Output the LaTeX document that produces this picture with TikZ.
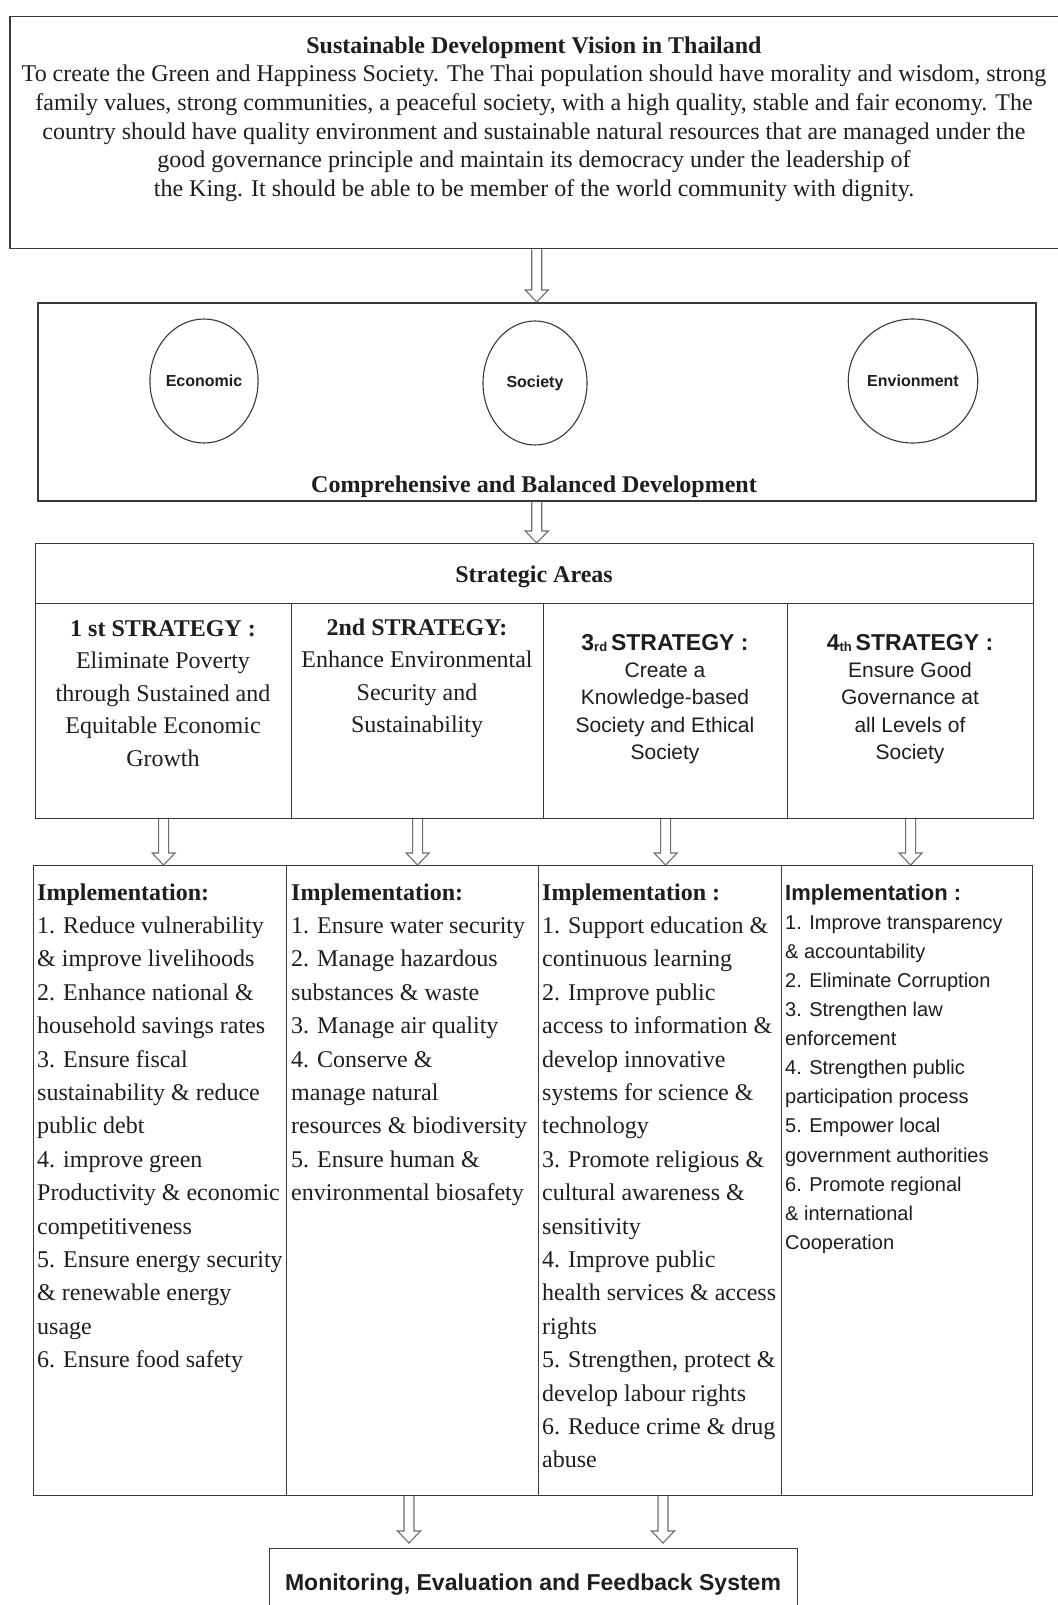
\documentclass[tikz,border=0pt]{standalone}
\usepackage{fontspec}
\setmainfont{Liberation Serif}
\setsansfont{Liberation Sans}
\usetikzlibrary{shapes.geometric,calc}
\definecolor{ink}{HTML}{1E1E1E}
\definecolor{rule}{HTML}{3A3A3A}
\definecolor{arrowgray}{HTML}{6E6E6E}
\tikzset{
  frame/.style={draw=rule, line width=1.5pt, inner sep=0pt, anchor=north west},
  cell/.style={draw=rule, line width=1.2pt, inner sep=0pt, anchor=north west},
  pillar/.style={draw=rule, line width=1.1pt, ellipse, minimum width=104pt, minimum height=124pt,
    inner sep=0pt, font=\sffamily\bfseries\fontsize{16}{18}\selectfont, text=ink},
  serifbody/.style={inner sep=0pt, text=ink, font=\fontsize{24}{33.4}\selectfont},
  headtxt/.style={inner sep=0pt, text=ink, anchor=base, font=\bfseries\fontsize{24}{28}\selectfont},
  hollow/.style={draw=arrowgray, line width=1.1pt, line join=miter, to path={
    let \p1=(\tikztostart), \p2=(\tikztotarget) in
    (\x1-5pt,\y1) -- (\x1-5pt,\y2+12pt) -- (\x1-11.5pt,\y2+12pt) -- (\x1,\y2)
    -- (\x1+11.5pt,\y2+12pt) -- (\x1+5pt,\y2+12pt) -- (\x1+5pt,\y1)}}
}
\newcommand{\ordsub}[1]{\raisebox{-1.5pt}{\fontsize{13}{13}\selectfont #1}}
\begin{document}
\begin{tikzpicture}[x=1pt,y=-1pt]
\useasboundingbox (0,0) rectangle (1057,1605);
\fill[white] (0,0) rectangle (1057,1605);

% vision statement
\node[frame, minimum width=1053pt, minimum height=232pt] (vision) at (9,16) {};
\node[inner sep=0pt, anchor=north, align=center, text=ink,
      font=\fontsize{24}{28.7}\selectfont] (visiontxt) at (534,32.9)
  {\strut\textbf{Sustainable Development Vision in Thailand}\\
   To create the Green and Happiness Society. The Thai population should have morality and wisdom, strong\\
   family values, strong communities, a peaceful society, with a high quality, stable and fair economy. The\\
   country should have quality environment and sustainable natural resources that are managed under the\\
   good governance principle and maintain its democracy under the leadership of\\
   the King. It should be able to be member of the world community with dignity.};

% three pillars
\node[frame, minimum width=998pt, minimum height=198pt] (balance) at (37,302) {};
\node[pillar] (economic) at (204,381) {Economic};
\node[pillar] (society) at (535,383) {Society};
\node[pillar] (environment) at (913,381) {Envionment};
\node[headtxt] (balancetxt) at (534,492) {Comprehensive and Balanced Development};

% strategic areas
\node[cell, minimum width=998pt, minimum height=60pt] (areas) at (35,543) {};
\node[headtxt] (areastxt) at (534,582) {Strategic Areas};
\node[cell, minimum width=256pt, minimum height=215pt] (s1) at (35,603) {};
\node[cell, minimum width=252pt, minimum height=215pt] (s2) at (291,603) {};
\node[cell, minimum width=244pt, minimum height=215pt] (s3) at (543,603) {};
\node[cell, minimum width=246pt, minimum height=215pt] (s4) at (787,603) {};

\node[serifbody, anchor=north, align=center, font=\fontsize{24}{32.6}\selectfont] (s1txt) at (163,613)
  {\strut\textbf{1 st STRATEGY :}\\ Eliminate Poverty\\ through Sustained and\\ Equitable Economic\\ Growth};
\node[serifbody, anchor=north, align=center, font=\fontsize{24}{32.6}\selectfont] (s2txt) at (417,612)
  {\strut\textbf{2nd STRATEGY:}\\ Enhance Environmental\\ Security and\\ Sustainability};
\node[inner sep=0pt, text=ink, anchor=north, align=center, font=\sffamily\fontsize{21}{27.3}\selectfont] (s3txt) at (665,631)
  {\strut{\bfseries\fontsize{23}{27.3}\selectfont 3\ordsub{rd}\,STRATEGY :}\\ Create a\\ Knowledge-based\\ Society and Ethical\\ Society};
\node[inner sep=0pt, text=ink, anchor=north, align=center, font=\sffamily\fontsize{21}{27.3}\selectfont] (s4txt) at (910,631)
  {\strut{\bfseries\fontsize{23}{27.3}\selectfont 4\ordsub{th}\,STRATEGY :}\\ Ensure Good\\ Governance at\\ all Levels of\\ Society};

% implementation
\node[cell, minimum width=253pt, minimum height=630pt] (i1) at (33,865) {};
\node[cell, minimum width=252pt, minimum height=630pt] (i2) at (286,865) {};
\node[cell, minimum width=243pt, minimum height=630pt] (i3) at (538,865) {};
\node[cell, minimum width=251pt, minimum height=630pt] (i4) at (781,865) {};

\node[serifbody, anchor=north west, align=left] (i1txt) at (37,876.6)
  {\strut\textbf{Implementation:}\\
   1. Reduce vulnerability\\ \& improve livelihoods\\ 2. Enhance national \&\\
   household savings rates\\ 3. Ensure fiscal\\ sustainability \& reduce\\ public debt\\
   4. improve green\\ Productivity \& economic\\ competitiveness\\
   5. Ensure energy security\\ \& renewable energy\\ usage\\ 6. Ensure food safety};
\node[serifbody, anchor=north west, align=left] (i2txt) at (291,876.6)
  {\strut\textbf{Implementation:}\\
   1. Ensure water security\\ 2. Manage hazardous\\ substances \& waste\\
   3. Manage air quality\\ 4. Conserve \&\\ manage natural\\
   resources \& biodiversity\\ 5. Ensure human \&\\ environmental biosafety};
\node[serifbody, anchor=north west, align=left] (i3txt) at (542,876.6)
  {\strut\textbf{Implementation :}\\
   1. Support education \&\\ continuous learning\\ 2. Improve public\\
   access to information \&\\ develop innovative\\ systems for science \&\\ technology\\
   3. Promote religious \&\\ cultural awareness \&\\ sensitivity\\
   4. Improve public\\ health services \& access\\ rights\\
   5. Strengthen, protect \&\\ develop labour rights\\ 6. Reduce crime \& drug\\ abuse};
\node[inner sep=0pt, text=ink, anchor=north west, align=left,
      font=\sffamily\fontsize{20}{29.1}\selectfont] (i4txt) at (785,879.6)
  {\strut{\bfseries\fontsize{22}{29.1}\selectfont Implementation :}\\
   1. Improve transparency\\ \& accountability\\ 2. Eliminate Corruption\\
   3. Strengthen law\\ enforcement\\ 4. Strengthen public\\ participation process\\
   5. Empower local\\ government authorities\\ 6. Promote regional\\
   \& international\\ Cooperation};

% monitoring
\node[cell, minimum width=528pt, minimum height=80pt] (monitor) at (269,1548) {};
\node[inner sep=0pt, anchor=base, text=ink, font=\sffamily\bfseries\fontsize{23}{26}\selectfont]
  (monitortxt) at (533,1590) {Monitoring, Evaluation and Feedback System};

% hollow block arrows
\draw[hollow] (vision.south -| balance.north) to (balance.north);
\draw[hollow] (balance.south) to (areas.north);
\draw[hollow] (s1.south) to (i1.north);
\draw[hollow] (s2.south) to (i2.north);
\draw[hollow] (s3.south) to (i3.north);
\draw[hollow] (s4.south) to (i4.north);
\coordinate (mtipL) at (409,1543);
\coordinate (mtipR) at (663,1543);
\draw[hollow] (i2.south -| mtipL) to (mtipL);
\draw[hollow] (i3.south -| mtipR) to (mtipR);
\end{tikzpicture}
\end{document}
